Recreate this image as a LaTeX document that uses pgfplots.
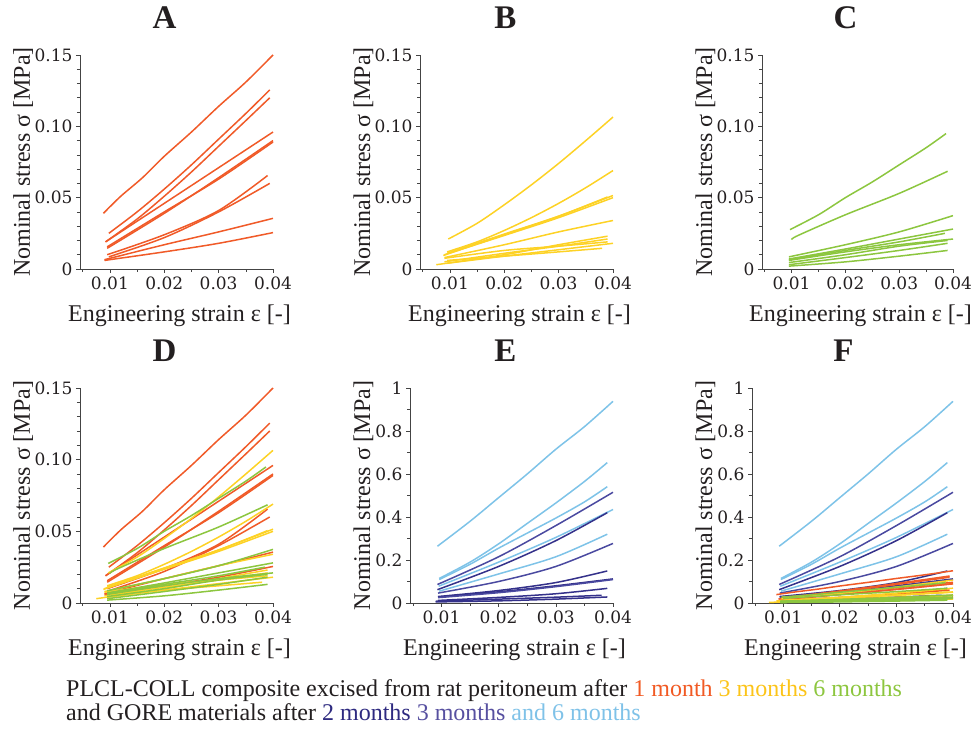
\documentclass[border=0pt]{standalone}
\usepackage{fontspec}
\setmainfont{Liberation Serif}
\newfontfamily\tickfont{DejaVu Serif}
\usepackage{pgfplots}
\pgfplotsset{compat=1.18}

\definecolor{cA}{HTML}{F05A28}
\definecolor{cB}{HTML}{FDD225}
\definecolor{cC}{HTML}{8CC63F}
\definecolor{cL}{HTML}{7EC3E8}
\definecolor{cD2}{HTML}{34318A}
\definecolor{cD3}{HTML}{4A49A0}
\definecolor{txt}{HTML}{231F20}
\definecolor{axgray}{HTML}{444444}

% 1 month (orange)
\newcommand\plotA{%
\addplot[cA] coordinates {(0.0088,0.039) (0.012,0.051) (0.016,0.064) (0.02,0.079) (0.025,0.096) (0.03,0.114) (0.035,0.131) (0.04,0.150)};
\addplot[cA] coordinates {(0.0098,0.025) (0.015,0.040) (0.02,0.056) (0.025,0.073) (0.03,0.091) (0.035,0.109) (0.0394,0.1255)};
\addplot[cA] coordinates {(0.0092,0.019) (0.015,0.035) (0.02,0.051) (0.025,0.068) (0.03,0.086) (0.035,0.104) (0.0394,0.120)};
\addplot[cA] coordinates {(0.0092,0.019) (0.02,0.046) (0.03,0.071) (0.04,0.096)};
\addplot[cA] coordinates {(0.0095,0.0145) (0.02,0.039) (0.03,0.064) (0.04,0.090)};
\addplot[cA] coordinates {(0.0095,0.0155) (0.02,0.040) (0.03,0.063) (0.04,0.089)};
\addplot[cA] coordinates {(0.0095,0.0100) (0.02,0.024) (0.03,0.041) (0.039,0.0655)};
\addplot[cA] coordinates {(0.0098,0.0085) (0.02,0.022) (0.03,0.040) (0.0394,0.060)};
\addplot[cA] coordinates {(0.009,0.0065) (0.02,0.017) (0.03,0.026) (0.04,0.0355)};
\addplot[cA] coordinates {(0.009,0.006) (0.02,0.012) (0.03,0.018) (0.04,0.0255)};
}
% 3 months (yellow)
\newcommand\plotB{%
\addplot[cB] coordinates {(0.0097,0.021) (0.015,0.032) (0.02,0.045) (0.025,0.059) (0.03,0.074) (0.035,0.090) (0.04,0.1065)};
\addplot[cB] coordinates {(0.0095,0.012) (0.015,0.019) (0.02,0.027) (0.025,0.036) (0.03,0.046) (0.035,0.057) (0.04,0.069)};
\addplot[cB] coordinates {(0.0088,0.0095) (0.02,0.024) (0.03,0.037) (0.04,0.0515)};
\addplot[cB] coordinates {(0.009,0.010) (0.02,0.0235) (0.03,0.036) (0.04,0.050)};
\addplot[cB] coordinates {(0.0095,0.011) (0.02,0.0245) (0.03,0.037) (0.039,0.0505)};
\addplot[cB] coordinates {(0.009,0.008) (0.02,0.017) (0.03,0.026) (0.04,0.034)};
\addplot[cB] coordinates {(0.0075,0.003) (0.02,0.010) (0.03,0.017) (0.039,0.023)};
\addplot[cB] coordinates {(0.009,0.005) (0.02,0.011) (0.03,0.016) (0.039,0.021)};
\addplot[cB] coordinates {(0.0095,0.004) (0.02,0.009) (0.03,0.0135) (0.04,0.018)};
\addplot[cB] coordinates {(0.0095,0.006) (0.02,0.009) (0.03,0.012) (0.038,0.0145)};
\addplot[cB] coordinates {(0.009,0.0075) (0.02,0.013) (0.03,0.016) (0.039,0.019)};
}
% 6 months (green)
\newcommand\plotC{%
\addplot[cC] coordinates {(0.0097,0.0276) (0.015,0.038) (0.02,0.050) (0.025,0.061) (0.03,0.073) (0.035,0.085) (0.0387,0.0949)};
\addplot[cC] coordinates {(0.0100,0.0206) (0.0112,0.0235) (0.02,0.038) (0.03,0.053) (0.039,0.0685)};
\addplot[cC] coordinates {(0.0095,0.0085) (0.02,0.017) (0.03,0.026) (0.04,0.0374)};
\addplot[cC] coordinates {(0.0095,0.007) (0.02,0.014) (0.03,0.021) (0.04,0.028)};
\addplot[cC] coordinates {(0.0095,0.0065) (0.02,0.013) (0.03,0.019) (0.0385,0.025)};
\addplot[cC] coordinates {(0.0095,0.006) (0.02,0.012) (0.03,0.017) (0.04,0.021)};
\addplot[cC] coordinates {(0.0095,0.0045) (0.02,0.010) (0.03,0.016) (0.039,0.020)};
\addplot[cC] coordinates {(0.0095,0.003) (0.02,0.008) (0.03,0.013) (0.039,0.018)};
\addplot[cC] coordinates {(0.0095,0.002) (0.02,0.005) (0.03,0.009) (0.039,0.013)};
}
% GORE
\newcommand\plotE{%
\addplot[cL] coordinates {(0.0093,0.264) (0.015,0.38) (0.02,0.49) (0.025,0.60) (0.03,0.715) (0.035,0.82) (0.04,0.938)};
\addplot[cL] coordinates {(0.0096,0.114) (0.015,0.19) (0.02,0.275) (0.025,0.37) (0.03,0.465) (0.035,0.565) (0.039,0.653)};
\addplot[cL] coordinates {(0.0096,0.109) (0.015,0.18) (0.02,0.255) (0.025,0.325) (0.03,0.395) (0.035,0.47) (0.039,0.541)};
\addplot[cL] coordinates {(0.0095,0.078) (0.02,0.19) (0.03,0.305) (0.04,0.435)};
\addplot[cL] coordinates {(0.0096,0.055) (0.02,0.135) (0.03,0.215) (0.039,0.320)};
\addplot[cD3] coordinates {(0.0093,0.086) (0.02,0.215) (0.03,0.36) (0.04,0.515)};
\addplot[cD2] coordinates {(0.0093,0.062) (0.02,0.17) (0.03,0.29) (0.039,0.42)};
\addplot[cD3] coordinates {(0.0094,0.046) (0.02,0.10) (0.03,0.17) (0.04,0.277)};
\addplot[cD2] coordinates {(0.0094,0.030) (0.02,0.058) (0.03,0.095) (0.039,0.149)};
\addplot[cD2] coordinates {(0.0094,0.028) (0.02,0.052) (0.03,0.080) (0.04,0.112)};
\addplot[cD3] coordinates {(0.0094,0.025) (0.02,0.048) (0.03,0.076) (0.04,0.109)};
\addplot[cD2] coordinates {(0.0094,0.012) (0.02,0.026) (0.03,0.043) (0.039,0.068)};
\addplot[cD2] coordinates {(0.009,0.008) (0.02,0.018) (0.03,0.027) (0.038,0.036)};
\addplot[cD2] coordinates {(0.009,0.005) (0.02,0.010) (0.03,0.018) (0.039,0.028)};
}

\pgfplotsset{
  panel/.style={
    scale only axis, width=193pt, height=214pt,
    xmin=0.0045, xmax=0.04, ymin=0, clip=false,
    scaled x ticks=false, scaled y ticks=false,
    axis lines=left, axis line style={-, draw=axgray, line width=0.8pt},
    tick align=outside, major tick length=4pt, minor tick length=3pt,
    tick style={draw=axgray, line width=0.6pt},
    xtick={0.01,0.02,0.03,0.04}, xticklabels={0.01,0.02,0.03,0.04},
    minor xtick={0.005,0.015,0.025,0.035},
    ticklabel style={font=\tickfont\fontsize{17}{17}\selectfont, text=txt},
    label style={font=\fontsize{24}{24}\selectfont, text=txt},
    xlabel={Engineering strain ε [-]},
    ylabel={Nominal stress σ [MPa]},
    xlabel style={at={(axis description cs:0.5,0)}, anchor=base, yshift=-53pt, xshift=3pt},
    title style={at={(axis description cs:0.5,1)}, anchor=base, yshift=20pt,
      font=\fontsize{33}{33}\selectfont\bfseries, text=txt},
    every axis plot/.append style={line width=1.5pt, no marks, smooth},
  },
  small/.style={
    ymax=0.15, ytick={0,0.05,0.10,0.15}, yticklabels={0,0.05,0.10,0.15},
    minor ytick={0.01,0.02,0.03,0.04,0.06,0.07,0.08,0.09,0.11,0.12,0.13,0.14},
    ylabel style={at={([xshift=-50pt]axis description cs:0,0.5)}, anchor=base},
  },
  big/.style={
    ymax=1, ytick={0,0.2,0.4,0.6,0.8,1}, yticklabels={0,0.2,0.4,0.6,0.8,1},
    minor ytick={0.1,0.3,0.5,0.7,0.9},
    ylabel style={at={([xshift=-40pt]axis description cs:0,0.5)}, anchor=base},
  },
}

\begin{document}
\begin{tikzpicture}
\useasboundingbox (0,0) rectangle (975pt,733pt);

\begin{axis}[panel, small, at={(80pt,464pt)}, anchor=south west,
  title={A}, title style={xshift=-12pt}]
\plotA
\end{axis}

\begin{axis}[panel, small, at={(420pt,464pt)}, anchor=south west,
  title={B}, title style={xshift=-11pt}]
\plotB
\end{axis}

\begin{axis}[panel, small, at={(762pt,464pt)}, anchor=south west, width=191pt,
  title={C}, title style={xshift=-12pt}]
\plotC
\end{axis}

\begin{axis}[panel, small, at={(80pt,130pt)}, anchor=south west, height=215pt,
  title={D}, title style={xshift=-12pt}]
\plotA
\plotB
\plotC
\end{axis}

\begin{axis}[panel, big, at={(410pt,130pt)}, anchor=south west, width=203pt, height=215pt,
  title={E}, title style={xshift=-6pt}]
\plotE
\end{axis}

\begin{axis}[panel, big, at={(752pt,130pt)}, anchor=south west, width=201pt, height=215pt,
  title={F}, title style={xshift=-9pt}]
\plotE
\plotA
\plotB
\plotC
\end{axis}

\node[anchor=base west, font=\fontsize{24}{24}\selectfont, text=txt, inner sep=0pt] at (66pt,36pt)
  {PLCL-COLL composite excised from rat peritoneum after \textcolor[HTML]{F15A24}{1 month} \textcolor[HTML]{FCC419}{3 months} \textcolor[HTML]{8DC63F}{6 months}};
\node[anchor=base west, font=\fontsize{24}{24}\selectfont, text=txt, inner sep=0pt] at (66pt,12pt)
  {and GORE materials after \textcolor[HTML]{2E2A80}{2 months} \textcolor[HTML]{5750A0}{3 months} \textcolor[HTML]{7FC2E8}{and 6 months}};
\end{tikzpicture}
\end{document}
